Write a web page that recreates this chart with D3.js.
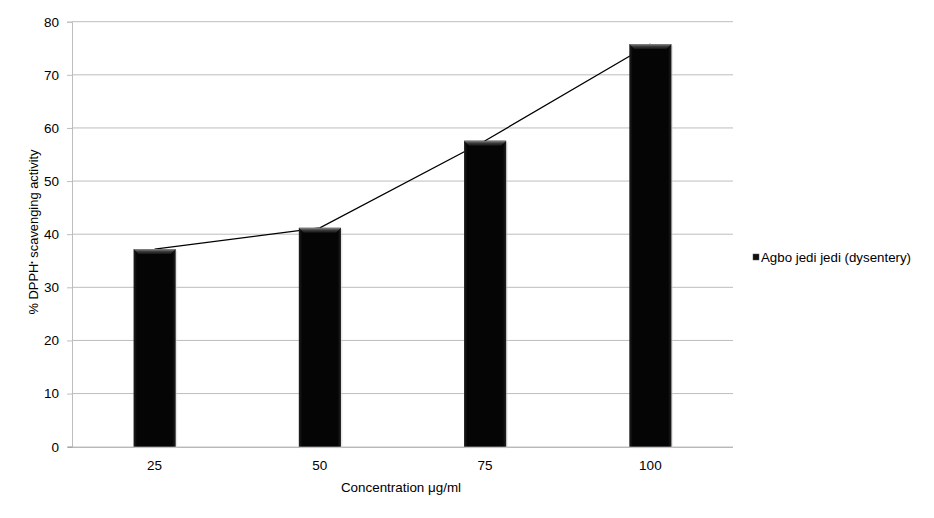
<!DOCTYPE html>
<html><head><meta charset="utf-8">
<script src="https://cdn.jsdelivr.net/npm/d3@7"></script>
<style>body{margin:0;background:#fff;} text{font-family:"Liberation Sans",Arial,sans-serif;fill:#000;}</style>
</head><body>
<svg id="c" width="934" height="518"></svg>
<script>
const categories = ["25", "50", "75", "100"];
const values = [37.2, 41.2, 57.6, 75.8];
const yTicks = [0, 10, 20, 30, 40, 50, 60, 70, 80];
const seriesName = "Agbo jedi jedi (dysentery)";

const svg = d3.select("#c");
const m = {l: 72, r: 733, t: 21.7, b: 446.7};
const x = d3.scaleBand().domain(categories).range([m.l, m.r]).paddingInner(0.745).paddingOuter(0.3725);
const y = d3.scaleLinear().domain([0, 80]).range([m.b, m.t]);

const defs = svg.append("defs");
const g = defs.append("linearGradient").attr("id","bevel").attr("x1",0).attr("y1",0).attr("x2",0).attr("y2",1);
g.append("stop").attr("offset",0).attr("stop-color","#8a8a8a");
g.append("stop").attr("offset",0.5).attr("stop-color","#3a3a3a");
g.append("stop").attr("offset",1).attr("stop-color","#141414");
const gs = defs.append("linearGradient").attr("id","side").attr("x1",0).attr("y1",0).attr("x2",1).attr("y2",0);
gs.append("stop").attr("offset",0).attr("stop-color","#202020");
gs.append("stop").attr("offset",0.08).attr("stop-color","#050505");
gs.append("stop").attr("offset",0.92).attr("stop-color","#050505");
gs.append("stop").attr("offset",1).attr("stop-color","#202020");

// gridlines
svg.append("g").selectAll("line").data(yTicks.filter(d => d > 0)).join("line")
  .attr("x1", m.l).attr("x2", m.r).attr("y1", d => y(d)).attr("y2", d => y(d))
  .attr("stroke", "#bdbdbd").attr("stroke-width", 1);

// y axis
const yAxis = svg.append("g").attr("transform", `translate(${m.l},0)`)
  .call(d3.axisLeft(y).tickValues(yTicks).tickSize(5).tickPadding(8).tickFormat(d3.format("d")));
yAxis.select(".domain").attr("stroke", "#bdbdbd");
yAxis.selectAll(".tick line").attr("stroke", "#bdbdbd");
yAxis.selectAll("text").style("font-size", "13.5px").attr("fill", "#000");

// x axis
const xAxis = svg.append("g").attr("transform", `translate(0,${m.b})`)
  .call(d3.axisBottom(x).tickSize(0).tickPadding(14));
xAxis.select(".domain").attr("stroke", "#9a9a9a").attr("d", `M${m.l - 4},0.5H${m.r}`);
xAxis.selectAll("text").style("font-size", "13.5px").attr("fill", "#000");

// line (behind bars)
svg.append("path").datum(values)
  .attr("fill", "none").attr("stroke", "#000").attr("stroke-width", 1.3)
  .attr("d", d3.line().x((d, i) => x(categories[i]) + x.bandwidth() / 2).y(d => y(d)));

// bars
const bw = x.bandwidth();
const bars = svg.append("g").selectAll("g").data(values).join("g");
bars.append("rect")
  .attr("x", (d, i) => x(categories[i]) + 1.5).attr("y", d => y(d) + 1.5)
  .attr("width", bw).attr("height", d => m.b - y(d))
  .attr("fill", "#cfcfcf").attr("opacity", 0.5);
bars.append("rect")
  .attr("x", (d, i) => x(categories[i])).attr("y", d => y(d))
  .attr("width", bw).attr("height", d => m.b - y(d))
  .attr("fill", "url(#side)");
bars.append("path")
  .attr("d", (d, i) => {
    const x0 = x(categories[i]), y0 = y(d);
    return `M${x0},${y0}H${x0 + bw}L${x0 + bw - 5},${y0 + 5}H${x0 + 5}Z`;
  })
  .attr("fill", "url(#bevel)");

// axis titles
svg.append("text").attr("x", 401).attr("y", 492).attr("text-anchor", "middle")
  .style("font-size", "13.4px").text("Concentration μg/ml");
const yt = svg.append("text").attr("transform", "translate(38,232) rotate(-90)")
  .attr("text-anchor", "middle").style("font-size", "12.9px");
yt.append("tspan").text("% DPPH");
yt.append("tspan").attr("dy", -4).style("font-size", "7px").text("•");
yt.append("tspan").attr("dy", 4).text(" scavenging activity");

// legend
const lg = svg.append("g").attr("transform", "translate(753,254)");
lg.append("rect").attr("width", 6).attr("height", 6).attr("fill", "#111").attr("stroke", "#555").attr("stroke-width", 0.5);
lg.append("text").attr("x", 8).attr("y", 7.5).style("font-size", "13.3px").text(seriesName);
</script>
</body></html>
